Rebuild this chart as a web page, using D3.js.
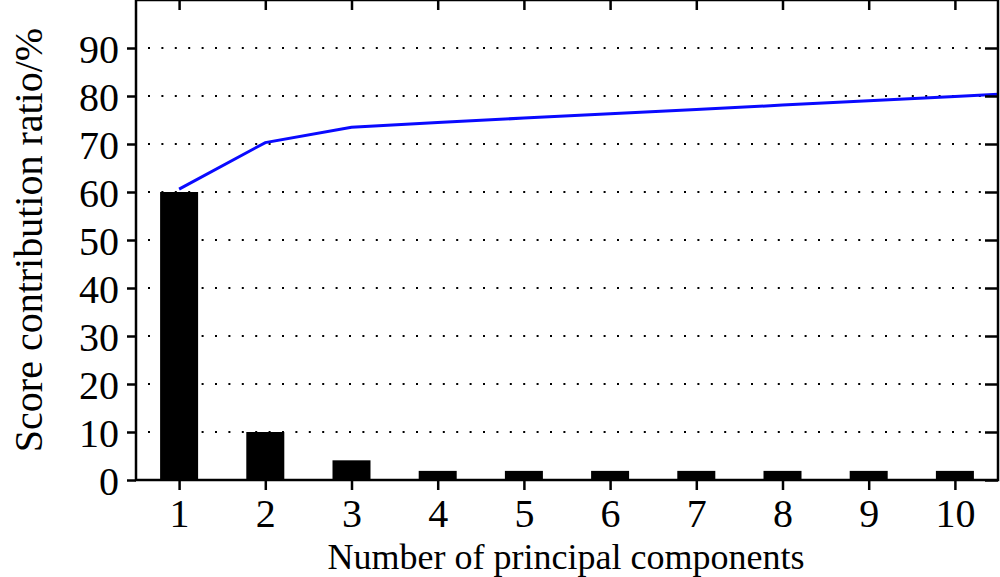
<!DOCTYPE html>
<html><head><meta charset="utf-8">
<script src="https://cdn.jsdelivr.net/npm/d3@7"></script>
<style>
html,body{margin:0;padding:0;background:#fff;}
svg{display:block;font-family:"Liberation Serif","Times New Roman",serif;}
</style></head>
<body>
<svg id="c" width="1000" height="577"></svg>
<script>
const categories = [1,2,3,4,5,6,7,8,9,10];
const barValues = [60, 10, 4.1, 1.9, 1.9, 1.9, 1.9, 1.9, 1.9, 1.9];
const lineX = [1,2,3,4,5,6,7,8,9,10,11];
const lineValues = [60.6, 70.3, 73.5, 74.5, 75.4, 76.3, 77.2, 78.1, 79.0, 79.9, 80.8];
const yTicks = [0,10,20,30,40,50,60,70,80,90];

const svg = d3.select("#c");
const L = 136, R = 998, T = 0, B = 480;
const x = d3.scaleLinear().domain([0.5, 10.5]).range([L, R]);
const y = d3.scaleLinear().domain([0, 100]).range([B, T]);
const barW = 38;

// gridlines
svg.append("g").selectAll("line").data(yTicks.filter(d => d > 0)).join("line")
  .attr("x1", L + 12).attr("x2", R - 8)
  .attr("y1", d => y(d)).attr("y2", d => y(d))
  .attr("stroke", "#000").attr("stroke-width", 2)
  .attr("stroke-dasharray", "2,11.4");

// bars
svg.append("g").selectAll("rect").data(categories).join("rect")
  .attr("x", (d) => x(d) - barW / 2)
  .attr("y", (d, i) => y(barValues[i]))
  .attr("width", barW)
  .attr("height", (d, i) => y(0) - y(barValues[i]))
  .attr("fill", "#000");

// line
svg.append("clipPath").attr("id", "clip").append("rect")
  .attr("x", L).attr("y", T).attr("width", R - L).attr("height", B - T);
svg.append("path")
  .datum(lineX.map((d, i) => [d, lineValues[i]]))
  .attr("clip-path", "url(#clip)")
  .attr("fill", "none").attr("stroke", "#0a0aff").attr("stroke-width", 3)
  .attr("d", d3.line().x(d => x(d[0])).y(d => y(d[1])));

// axes
const axL = svg.append("g").attr("transform", `translate(${L},0)`)
  .call(d3.axisLeft(y).tickValues(yTicks).tickSize(9).tickPadding(8).tickFormat(d3.format("d")));
const axB = svg.append("g").attr("transform", `translate(0,${B})`)
  .call(d3.axisBottom(x).tickValues(categories).tickSize(10).tickPadding(10).tickFormat(d3.format("d")));
const axT = svg.append("g").attr("transform", `translate(0,${T})`)
  .call(d3.axisBottom(x).tickValues(categories).tickSize(10).tickFormat(""));
const axR = svg.append("g").attr("transform", `translate(${R},0)`)
  .call(d3.axisLeft(y).tickValues(yTicks).tickSize(13).tickFormat(""));
[axL, axB, axT, axR].forEach(a => {
  a.select(".domain").remove();
  a.selectAll(".tick line").attr("stroke", "#000").attr("stroke-width", 2.5);
  a.selectAll("text").attr("fill", "#000").style("font-family", "'Liberation Serif', serif").style("font-size", "40px");
});
axL.selectAll("text").attr("dy", "0.36em");
axB.selectAll("text").attr("dy", "0.68em");

// frame
svg.append("rect").attr("x", L).attr("y", T).attr("width", R - L).attr("height", B - T)
  .attr("fill", "none").attr("stroke", "#000").attr("stroke-width", 2.5);

// axis titles
svg.append("text").attr("x", 566).attr("y", 569).attr("text-anchor", "middle")
  .style("font-size", "36px").text("Number of principal components");
svg.append("text").attr("transform", `translate(42,240) rotate(-90)`).attr("text-anchor", "middle")
  .style("font-size", "40px").text("Score contribution ratio/%");
</script>
</body></html>
